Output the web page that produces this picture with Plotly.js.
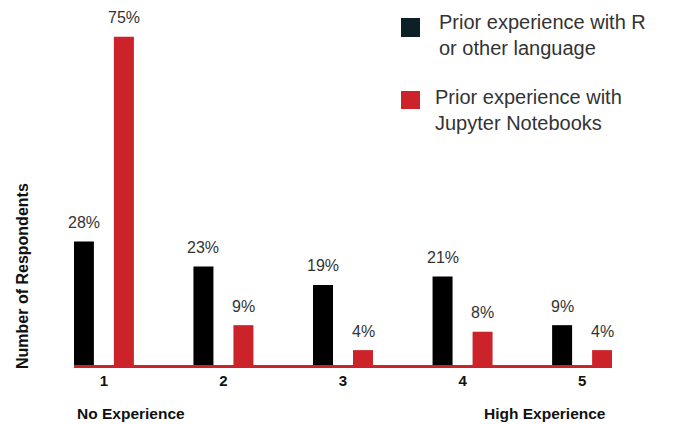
<!DOCTYPE html>
<html>
<head>
<meta charset="utf-8">
<script src="https://cdn.plot.ly/plotly-3.0.1.min.js"></script>
<style>html,body{margin:0;padding:0;background:#fff;}#chart{width:677px;height:424px;}</style>
</head>
<body>
<div id="chart"></div>
<script>
// ---- data ----
const categories = ["1", "2", "3", "4", "5"];
const priorR = [28.2, 22.5, 18.3, 20.2, 9.1];
const priorJupyter = [75.0, 9.1, 3.4, 7.6, 3.4];
const labelsR = ["28%", "23%", "19%", "21%", "9%"];
const labelsJupyter = ["75%", "9%", "4%", "8%", "4%"];
const seriesNames = ["Prior experience with R<br>or other language", "Prior experience with<br>Jupyter Notebooks"];
const endLabels = ["No Experience", "High Experience"];
const yTitle = "Number of Respondents";

// ---- style ----
const W = 677, H = 424;
const M = {l: 74, r: 65, t: 10, b: 59};
const PW = W - M.l - M.r, PH = H - M.t - M.b;
const px2x = p => (p - M.l) / PW;
const px2y = p => (H - M.b - p) / PH;
const RED = "#cc2229", BLACK = "#000000", LEG_BLACK = "#0b2027";
const FONT = "Liberation Sans, Arial, Helvetica, sans-serif";
const unit = PW / 4.5;              // px per category
const barW = 20 / unit;

const traces = [
  {type: "bar", x: categories, y: priorR, name: seriesNames[0],
   marker: {color: BLACK}, width: barW, offset: -30 / unit, showlegend: false, hoverinfo: "skip"},
  {type: "bar", x: categories, y: priorJupyter, name: seriesNames[1],
   marker: {color: RED}, width: barW, offset: 10 / unit, showlegend: false, hoverinfo: "skip"}
];

const annotations = [];
categories.forEach((c, i) => {
  annotations.push({x: i, y: priorR[i], xref: "x", yref: "y", xshift: -20, yshift: 19,
    text: labelsR[i], showarrow: false, yanchor: "middle",
    font: {family: FONT, size: 16, color: "#333333"}});
  annotations.push({x: i, y: priorJupyter[i], xref: "x", yref: "y", xshift: 20, yshift: 19,
    text: labelsJupyter[i], showarrow: false, yanchor: "middle",
    font: {family: FONT, size: 16, color: "#333333"}});
});
// axis-end notes
annotations.push({xref: "paper", yref: "paper", x: px2x(75), y: px2y(413), xanchor: "left", yanchor: "middle",
  text: "<b>" + endLabels[0] + "</b>", showarrow: false, font: {family: FONT, size: 15.5, color: "#111"}});
annotations.push({xref: "paper", yref: "paper", x: px2x(608), y: px2y(413), xanchor: "right", yanchor: "middle",
  text: "<b>" + endLabels[1] + "</b>", showarrow: false, font: {family: FONT, size: 15.5, color: "#111"}});
// y title
annotations.push({xref: "paper", yref: "paper", x: px2x(22), y: px2y(276), xanchor: "center", yanchor: "middle",
  textangle: -90, text: "<b>" + yTitle + "</b>", showarrow: false, font: {family: FONT, size: 16, color: "#111"}});
// legend text
annotations.push({xref: "paper", yref: "paper", x: px2x(437), y: px2y(35), xanchor: "left", yanchor: "middle", align: "left",
  text: seriesNames[0], showarrow: false, font: {family: FONT, size: 20, color: "#333333"}});
annotations.push({xref: "paper", yref: "paper", x: px2x(433), y: px2y(110), xanchor: "left", yanchor: "middle", align: "left",
  text: seriesNames[1], showarrow: false, font: {family: FONT, size: 20, color: "#333333"}});

const shapes = [
  {type: "rect", xref: "paper", yref: "paper", x0: px2x(401), x1: px2x(420), y0: px2y(37), y1: px2y(18),
   fillcolor: LEG_BLACK, line: {width: 0}},
  {type: "rect", xref: "paper", yref: "paper", x0: px2x(401), x1: px2x(420), y0: px2y(109), y1: px2y(91),
   fillcolor: RED, line: {width: 0}}
];

const layout = {
  width: W, height: H, margin: M,
  paper_bgcolor: "#ffffff", plot_bgcolor: "#ffffff",
  barmode: "overlay", showlegend: false,
  font: {family: FONT},
  xaxis: {type: "category", range: [-0.25, 4.25], showgrid: false, zeroline: false,
    showline: true, linecolor: RED, linewidth: 3, ticks: "",
    tickfont: {family: FONT, size: 15, color: "#111", weight: "bold"}, fixedrange: true},
  yaxis: {range: [0, 81.1], visible: false, showgrid: false, zeroline: false, fixedrange: true},
  annotations: annotations, shapes: shapes
};

Plotly.newPlot("chart", traces, layout, {staticPlot: true, displayModeBar: false});
</script>
</body>
</html>
